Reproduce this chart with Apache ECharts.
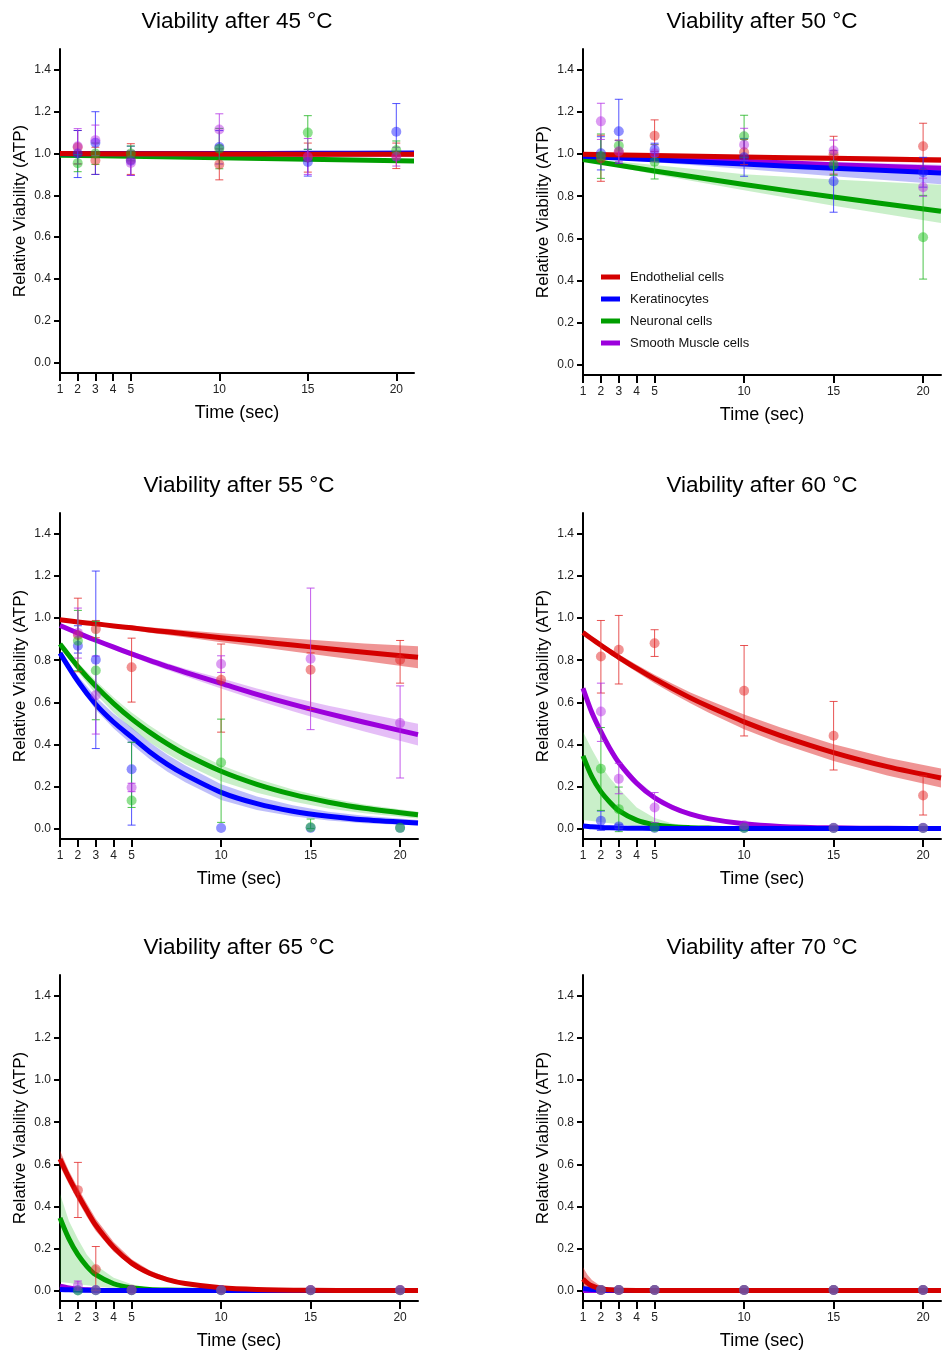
<!DOCTYPE html>
<html><head><meta charset="utf-8">
<script src="https://cdn.jsdelivr.net/npm/echarts@6/dist/echarts.min.js"></script>
<style>html,body{margin:0;padding:0;background:#fff}#c{width:948px;height:1351px}</style>
</head><body><div id="c"></div>
<script>
// ---------- DATA ----------
const CELLS = ['Endothelial cells', 'Keratinocytes', 'Neuronal cells', 'Smooth Muscle cells'];
const TEMPS = [45, 50, 55, 60, 65, 70];
const TIMES = [2, 3, 5, 10, 15, 20];
const X_TICKS = [1, 2, 3, 4, 5, 10, 15, 20];
const Y_TICKS = [0, 0.2, 0.4, 0.6, 0.8, 1.0, 1.2, 1.4];

// observed means and error-bar bounds (rows: Endothelial, Keratinocytes, Neuronal, Smooth Muscle; cols: TIMES)
const mean_45 = [[1.03,0.967,0.97,0.948,0.98,0.99],[1.0,1.052,0.965,1.031,0.959,1.104],[0.954,1.0,1.0,1.023,1.10,1.016],[1.035,1.064,0.955,1.115,0.985,0.985]];
const low_45  = [[0.95,0.90,0.90,0.874,0.911,0.928],[0.885,0.90,0.895,0.95,0.892,0.97],[0.913,0.948,0.965,0.927,1.02,0.972],[0.95,0.99,0.895,1.04,0.90,0.94]];
const high_45 = [[1.11,1.03,1.047,1.022,1.05,1.05],[1.11,1.20,1.035,1.11,1.02,1.239],[0.995,1.05,1.036,1.12,1.181,1.06],[1.119,1.136,1.015,1.19,1.072,1.03]];

const mean_50 = [[0.98,1.01,1.088,1.009,1.0,1.038],[1.004,1.109,1.021,0.985,0.871,0.914],[0.991,1.04,0.964,1.085,0.95,0.605],[1.156,1.014,1.004,1.045,1.017,0.843]];
const low_50  = [[0.871,0.955,1.013,0.95,0.905,0.928],[0.925,0.957,0.99,0.895,0.724,0.843],[0.885,1.015,0.882,0.985,0.90,0.406],[1.07,0.964,0.964,0.97,0.967,0.80]];
const high_50 = [[1.09,1.067,1.163,1.07,1.085,1.147],[1.083,1.261,1.052,1.075,1.018,0.985],[1.096,1.065,1.046,1.185,1.0,0.804],[1.242,1.064,1.044,1.123,1.067,0.886]];

const mean_55 = [[0.92,0.948,0.767,0.707,0.755,0.802],[0.869,0.802,0.282,0.002,0.003,0.003],[0.893,0.751,0.133,0.314,0.006,0.003],[0.93,0.634,0.195,0.782,0.807,0.501]];
const low_55  = [[0.745,0.907,0.601,0.458,0.565,0.691],[0.834,0.38,0.016,0.002,0.003,0.003],[0.75,0.517,0.10,0.029,0.0,0.003],[0.81,0.449,0.175,0.742,0.47,0.24]];
const high_55 = [[1.095,0.989,0.905,0.877,0.835,0.894],[0.964,1.224,0.41,0.002,0.003,0.003],[1.037,0.985,0.41,0.52,0.045,0.003],[1.048,0.82,0.215,0.821,1.143,0.678]];

const mean_60 = [[0.818,0.85,0.881,0.655,0.441,0.157],[0.037,0.01,0.003,0.002,0.002,0.002],[0.284,0.092,0.005,0.003,0.002,0.002],[0.556,0.236,0.10,0.015,0.003,0.003]];
const low_60  = [[0.644,0.687,0.818,0.44,0.278,0.064],[-0.009,0.0,0.003,0.002,0.002,0.002],[0.086,-0.015,0.005,0.003,0.002,0.002],[0.414,0.165,0.028,0.015,0.003,0.003]];
const high_60 = [[0.989,1.013,0.945,0.87,0.604,0.25],[0.083,0.02,0.003,0.002,0.002,0.002],[0.48,0.197,0.005,0.003,0.002,0.002],[0.691,0.31,0.171,0.015,0.003,0.003]];

const mean_65 = [[0.477,0.101,0.003,0.002,0.002,0.002],[0.001,0.001,0.001,0.001,0.001,0.001],[0.0,0.001,0.001,0.001,0.001,0.001],[0.022,0.002,0.002,0.002,0.002,0.002]];
const low_65  = [[0.347,0.0,0.003,0.002,0.002,0.002],[0.001,0.001,0.001,0.001,0.001,0.001],[0.0,0.001,0.001,0.001,0.001,0.001],[0.0,0.002,0.002,0.002,0.002,0.002]];
const high_65 = [[0.609,0.209,0.003,0.002,0.002,0.002],[0.001,0.001,0.001,0.001,0.001,0.001],[0.0,0.001,0.001,0.001,0.001,0.001],[0.045,0.002,0.002,0.002,0.002,0.002]];

const mean_70 = [[0.002,0.002,0.002,0.002,0.002,0.002],[0.002,0.002,0.002,0.002,0.002,0.002],[0.002,0.002,0.002,0.002,0.002,0.002],[0.002,0.002,0.002,0.002,0.002,0.002]];
const low_70  = mean_70;
const high_70 = mean_70;

// fitted decay curves and confidence bands
const fitX_45 = [1,5,10,15,21];
const fit_45 = [[1.0,0.999,0.998,0.997,0.996],[0.999,1.0,1.0,1.001,1.002],[0.992,0.987,0.98,0.972,0.964],[1.0,0.999,0.999,0.998,0.998]];
const bandLo_45 = [null,null,[0.988,0.982,0.974,0.965,0.955],null];
const bandHi_45 = [null,null,[0.996,0.992,0.986,0.979,0.973],null];

const fitX_50 = [1,5,10,15,21];
const fit_50 = [[1.0,0.994,0.987,0.98,0.972],[0.99,0.973,0.953,0.933,0.91],[0.975,0.92,0.856,0.796,0.729],[0.995,0.982,0.966,0.95,0.933]];
const bandLo_50 = [[0.995,0.988,0.979,0.969,0.958],[0.985,0.962,0.93,0.895,0.857],[0.97,0.905,0.828,0.755,0.673],[0.99,0.975,0.955,0.935,0.915]];
const bandHi_50 = [[1.005,1.0,0.995,0.99,0.985],[0.994,0.98,0.968,0.955,0.94],[0.98,0.948,0.905,0.88,0.855],[1.0,0.99,0.977,0.963,0.95]];

const fitX_55 = [1,2,3,4,5,6,7,8,10,12,14,16,18,21];
const fit_55 = [
  [0.992,0.982,0.973,0.963,0.954,0.944,0.935,0.926,0.907,0.89,0.872,0.855,0.838,0.814],
  [0.834,0.70,0.59,0.505,0.435,0.365,0.305,0.255,0.172,0.118,0.082,0.058,0.041,0.026],
  [0.877,0.77,0.676,0.594,0.521,0.458,0.402,0.353,0.272,0.21,0.162,0.125,0.096,0.065],
  [0.965,0.929,0.895,0.862,0.83,0.799,0.77,0.742,0.69,0.638,0.59,0.546,0.505,0.446]];
const bandLo_55 = [
  [0.989,0.977,0.966,0.954,0.943,0.931,0.92,0.909,0.886,0.864,0.841,0.819,0.796,0.762],
  [0.825,0.68,0.565,0.475,0.4,0.33,0.27,0.22,0.135,0.088,0.058,0.038,0.025,0.014],
  [0.868,0.745,0.64,0.55,0.475,0.41,0.355,0.305,0.225,0.17,0.128,0.095,0.072,0.048],
  [0.961,0.923,0.887,0.852,0.818,0.785,0.754,0.724,0.666,0.61,0.557,0.508,0.461,0.394]];
const bandHi_55 = [
  [0.995,0.987,0.98,0.972,0.965,0.957,0.95,0.943,0.928,0.916,0.903,0.891,0.88,0.866],
  [0.845,0.725,0.625,0.545,0.48,0.41,0.35,0.3,0.21,0.152,0.11,0.08,0.06,0.04],
  [0.884,0.788,0.702,0.623,0.552,0.49,0.434,0.384,0.301,0.236,0.185,0.145,0.114,0.08],
  [0.969,0.935,0.903,0.872,0.842,0.813,0.786,0.76,0.714,0.666,0.623,0.584,0.549,0.498]];

const fitX_60 = [1,1.5,2,2.5,3,4,5,6,7,8,10,12,15,18,21];
const fit_60 = [
  [0.932,0.901,0.871,0.842,0.814,0.761,0.711,0.665,0.621,0.581,0.507,0.443,0.361,0.294,0.24],
  [0.012,0.008,0.005,0.003,0.002,0.001,0,0,0,0,0,0,0,0,0],
  [0.345,0.245,0.175,0.125,0.085,0.04,0.018,0.008,0.004,0.002,0,0,0,0,0],
  [0.667,0.55,0.46,0.38,0.313,0.215,0.146,0.10,0.068,0.047,0.022,0.01,0.003,0.001,0]];
const bandLo_60 = [
  [0.922,0.89,0.859,0.829,0.799,0.744,0.691,0.642,0.595,0.551,0.472,0.405,0.321,0.252,0.195],
  null,
  [0.04,0.035,0.03,0.025,0.02,0.01,0.004,0.001,0,0,0,0,0,0,0],
  [0.655,0.535,0.445,0.365,0.3,0.203,0.136,0.092,0.062,0.042,0.019,0.008,0.002,0,0]];
const bandHi_60 = [
  [0.942,0.912,0.883,0.855,0.829,0.778,0.731,0.688,0.647,0.611,0.542,0.481,0.401,0.336,0.285],
  null,
  [0.46,0.375,0.3,0.24,0.19,0.1,0.05,0.024,0.012,0.006,0.001,0,0,0,0],
  [0.68,0.565,0.478,0.398,0.33,0.232,0.16,0.112,0.078,0.054,0.027,0.013,0.005,0.002,0.001]];

const fitX_65 = [1,1.5,2,2.5,3,4,5,6,7,8,10,12,15,18,21];
const fit_65 = [
  [0.625,0.535,0.455,0.38,0.31,0.205,0.13,0.082,0.052,0.033,0.013,0.005,0.001,0,0],
  [0.005,0.003,0.002,0.001,0,0,0,0,0,0,0,0,0,0,0],
  [0.345,0.245,0.17,0.115,0.075,0.032,0.013,0.005,0.002,0.001,0,0,0,0,0],
  [0.02,0.012,0.006,0.003,0.001,0,0,0,0,0,0,0,0,0,0]];
const bandLo_65 = [
  [0.59,0.505,0.425,0.35,0.283,0.184,0.115,0.07,0.043,0.026,0.009,0.003,0,0,0],
  null,
  [0.04,0.035,0.03,0.025,0.02,0.01,0.003,0,0,0,0,0,0,0,0],
  null];
const bandHi_65 = [
  [0.665,0.568,0.488,0.413,0.341,0.23,0.148,0.096,0.062,0.04,0.018,0.007,0.002,0,0],
  null,
  [0.46,0.33,0.245,0.17,0.12,0.06,0.03,0.012,0.005,0.003,0.001,0,0,0,0],
  null];

const fitX_70 = [1,1.25,1.5,2,2.5,3,5,21];
const fit_70 = [[0.055,0.035,0.022,0.008,0.003,0.001,0,0],[0.01,0.007,0.005,0.002,0.001,0,0,0],[0,0,0,0,0,0,0,0],[0,0,0,0,0,0,0,0]];
const bandLo_70 = [[0.02,0.012,0.007,0.002,0,0,0,0],null,null,null];
const bandHi_70 = [[0.11,0.075,0.05,0.02,0.008,0.003,0,0],null,null,null];

// ---------- STYLE ----------
const FONT = "'Liberation Sans', Arial, sans-serif";
const LINE = ['#d40000', '#0000ff', '#009e00', '#9c00dc'];
const POINT = ['rgba(225,30,30,0.6)', 'rgba(30,30,255,0.62)', 'rgba(20,190,20,0.6)', 'rgba(175,30,225,0.55)'];
const BAR = ['rgba(225,40,40,0.8)', 'rgba(40,40,255,0.8)', 'rgba(30,180,30,0.8)', 'rgba(180,50,230,0.8)'];
const BAND = ['rgba(220,20,20,0.45)', 'rgba(40,40,240,0.3)', 'rgba(40,190,40,0.25)', 'rgba(170,40,230,0.3)'];
const LAYOUT = [
  {left: 60, top: 49, width: 354, height: 324, titleTop: 10},
  {left: 583, top: 49, width: 358, height: 326, titleTop: 10},
  {left: 60, top: 513, width: 358, height: 326, titleTop: 474},
  {left: 583, top: 513, width: 358, height: 326, titleTop: 474},
  {left: 60, top: 975, width: 358, height: 326, titleTop: 936},
  {left: 583, top: 975, width: 358, height: 326, titleTop: 936}
];
const PANELS = [
  {mean: mean_45, low: low_45, high: high_45, fx: fitX_45, fit: fit_45, bl: bandLo_45, bh: bandHi_45},
  {mean: mean_50, low: low_50, high: high_50, fx: fitX_50, fit: fit_50, bl: bandLo_50, bh: bandHi_50},
  {mean: mean_55, low: low_55, high: high_55, fx: fitX_55, fit: fit_55, bl: bandLo_55, bh: bandHi_55},
  {mean: mean_60, low: low_60, high: high_60, fx: fitX_60, fit: fit_60, bl: bandLo_60, bh: bandHi_60},
  {mean: mean_65, low: low_65, high: high_65, fx: fitX_65, fit: fit_65, bl: bandLo_65, bh: bandHi_65},
  {mean: mean_70, low: low_70, high: high_70, fx: fitX_70, fit: fit_70, bl: bandLo_70, bh: bandHi_70}
];

const titles = [], grids = [], xAxes = [], yAxes = [], series = [];

PANELS.forEach((P, i) => {
  const L = LAYOUT[i];
  titles.push({
    text: 'Viability after ' + TEMPS[i] + ' °C', left: L.left + L.width / 2, top: L.titleTop, textAlign: 'center',
    padding: 0,
    textStyle: {fontSize: 22.5, fontWeight: 'normal', color: '#000', fontFamily: FONT, lineHeight: 24}
  });
  grids.push({left: L.left, top: L.top, width: L.width, height: L.height, containLabel: false});
  xAxes.push({
    type: 'value', gridIndex: i, min: 1, max: 21,
    name: 'Time (sec)', nameLocation: 'middle', nameGap: 31,
    nameTextStyle: {fontSize: 18, color: '#000', fontFamily: FONT},
    axisLine: {show: true, onZero: false, lineStyle: {color: '#000', width: 2}},
    axisTick: {show: true, customValues: X_TICKS, length: 8, lineStyle: {color: '#000', width: 2}},
    axisLabel: {customValues: X_TICKS, margin: 11, fontSize: 12, color: '#222', fontFamily: FONT},
    splitLine: {show: false}
  });
  yAxes.push({
    type: 'value', gridIndex: i, min: -0.05, max: 1.5,
    name: 'Relative Viability (ATP)', nameLocation: 'middle', nameGap: 31,
    nameTextStyle: {fontSize: 17, color: '#000', fontFamily: FONT},
    axisLine: {show: true, onZero: false, lineStyle: {color: '#000', width: 2}},
    axisTick: {show: true, customValues: Y_TICKS, length: 6, lineStyle: {color: '#000', width: 2}},
    axisLabel: {customValues: Y_TICKS, margin: 9, fontSize: 12, color: '#222', fontFamily: FONT,
      formatter: v => Number(v).toFixed(1)},
    splitLine: {show: false}
  });

  // confidence bands as polygons between lower and upper bound
  [2, 3, 1, 0].forEach(j => {
    if (!P.bl[j]) return;
    const xs = P.fx, lo = P.bl[j], hi = P.bh[j], fill = BAND[j];
    series.push({
      type: 'custom', name: CELLS[j] + ' band', xAxisIndex: i, yAxisIndex: i, z: 1, silent: true,
      encode: {x: 0, y: [1, 2]},
      data: xs.map((x, k) => [x, lo[k], hi[k]]),
      renderItem: (params, api) => {
        if (params.dataIndex !== 0) return null;
        const up = xs.map((x, k) => api.coord([x, hi[k]]));
        const dn = xs.map((x, k) => api.coord([x, lo[k]])).reverse();
        return {type: 'polygon', shape: {points: up.concat(dn)}, style: {fill: fill}};
      }
    });
  });

  // fitted curves (green, purple, blue, red on top)
  [2, 3, 1, 0].forEach(j => {
    series.push({
      type: 'line', name: CELLS[j], xAxisIndex: i, yAxisIndex: i,
      data: P.fx.map((x, k) => [x, P.fit[j][k]]), symbol: 'none', showSymbol: false,
      smooth: 0.3,
      lineStyle: {width: 5, color: LINE[j], join: 'round'}, itemStyle: {color: LINE[j]}, z: 2, silent: true
    });
  });

  // error bars
  [0, 1, 2, 3].forEach(j => {
    const col = BAR[j];
    series.push({
      type: 'custom', name: CELLS[j] + ' err', xAxisIndex: i, yAxisIndex: i, z: 3, silent: true,
      encode: {x: 0, y: [1, 2, 3]},
      data: TIMES.map((t, k) => [t, P.mean[j][k], P.low[j][k], P.high[j][k]]),
      renderItem: (params, api) => {
        const x = api.value(0), lo = api.value(2), hi = api.value(3);
        if (hi - lo < 1e-6) return null;
        const a = api.coord([x, lo]), b = api.coord([x, hi]);
        const st = {stroke: col, lineWidth: 1};
        return {type: 'group', children: [
          {type: 'line', shape: {x1: a[0], y1: a[1], x2: b[0], y2: b[1]}, style: st},
          {type: 'line', shape: {x1: a[0] - 4, y1: a[1], x2: a[0] + 4, y2: a[1]}, style: st},
          {type: 'line', shape: {x1: b[0] - 4, y1: b[1], x2: b[0] + 4, y2: b[1]}, style: st}
        ]};
      }
    });
  });

  // observed points
  [0, 1, 2, 3].forEach(j => {
    series.push({
      type: 'scatter', name: CELLS[j] + ' pts', xAxisIndex: i, yAxisIndex: i, z: 4, silent: true,
      symbol: 'circle', symbolSize: 10, itemStyle: {color: POINT[j]},
      data: TIMES.map((t, k) => [t, P.mean[j][k]])
    });
  });
});

const option = {
  animation: false,
  backgroundColor: '#fff',
  textStyle: {fontFamily: FONT},
  title: titles,
  grid: grids,
  xAxis: xAxes,
  yAxis: yAxes,
  legend: {
    data: CELLS.map(n => ({name: n, icon: 'rect'})),
    orient: 'vertical', left: 601, top: 270, padding: 0, itemWidth: 19, itemHeight: 5, itemGap: 8,
    selectedMode: false,
    textStyle: {fontSize: 13, color: '#111', fontFamily: FONT, lineHeight: 14, padding: [0, 0, 0, 5]}
  },
  series: series
};
const chart = echarts.init(document.getElementById('c'), null, {renderer: 'canvas'});
chart.setOption(option);
</script>
</body></html>
